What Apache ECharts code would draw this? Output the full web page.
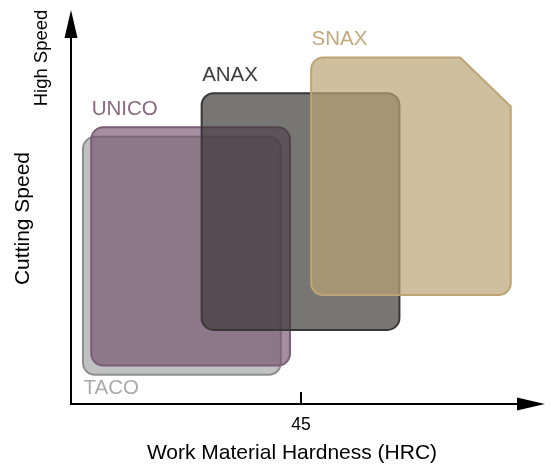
<!DOCTYPE html>
<html>
<head>
<meta charset="utf-8">
<title>Cutting Speed vs Work Material Hardness</title>
<script src="https://cdn.jsdelivr.net/npm/echarts@6/dist/echarts.min.js"></script>
<style>
  html, body { margin: 0; padding: 0; background: #fff; }
  #chart { width: 551px; height: 469px; }
</style>
</head>
<body>
<div id="chart"></div>
<script>
// grade families and the hardness / speed window each one covers
const grades = ['TACO', 'UNICO', 'ANAX', 'SNAX'];
const hardnessFrom = [21.3, 22.2, 34.2, 46.1];
const hardnessTo = [42.8, 43.8, 55.7, 67.8];
const speedFrom = [7.7, 10.1, 19.5, 28.7];
const speedTo = [70.3, 72.8, 81.8, 91.2];
// SNAX has its top-right corner clipped off
const clipHardness = [null, null, null, 62.3];
const clipSpeed = [null, null, null, 78.3];
const hardnessTicks = [45];

const FONT = '"Liberation Sans", Arial, Helvetica, sans-serif';
const R = 12;

const gradeStyle = {
  TACO: { fill: '#c0c1c1', stroke: '#8e8e8e', text: '#a9a9a9', below: true },
  UNICO: { fill: 'rgba(113, 78, 106, 0.64)', stroke: '#7c5a76', text: '#8a6981' },
  ANAX: { fill: 'rgba(60, 55, 55, 0.69)', stroke: '#3a3838', text: '#3e3e3e' },
  SNAX: { fill: 'rgba(184, 163, 114, 0.69)', stroke: '#bea474', text: '#c3a97b' },
}

const chart = echarts.init(document.getElementById('chart'));

// rounded box, optionally with the top-right corner cut at (cx, y0) -> (x1, cy)
function boxPath(x0, y0, x1, y1, cx, cy) {
  let d = `M ${x0 + R} ${y0} `;
  if (cx != null) {
    d += `L ${cx} ${y0} L ${x1} ${cy} `;
  } else {
    d += `L ${x1 - R} ${y0} A ${R} ${R} 0 0 1 ${x1} ${y0 + R} `;
  }
  d += `L ${x1} ${y1 - R} A ${R} ${R} 0 0 1 ${x1 - R} ${y1} `;
  d += `L ${x0 + R} ${y1} A ${R} ${R} 0 0 1 ${x0} ${y1 - R} `;
  d += `L ${x0} ${y0 + R} A ${R} ${R} 0 0 1 ${x0 + R} ${y0} Z`;
  return d;
}

const boxes = grades.map((g, i) => [
  hardnessFrom[i], hardnessTo[i], speedFrom[i], speedTo[i],
  clipHardness[i] == null ? '-' : clipHardness[i],
  clipSpeed[i] == null ? '-' : clipSpeed[i],
]);

chart.setOption({
  animation: false,
  backgroundColor: '#fff',
  textStyle: { fontFamily: FONT },
  grid: { left: 71, right: 20, top: 24, bottom: 63 },
  xAxis: {
    type: 'value',
    min: 20,
    max: 70,
    name: 'Work Material Hardness (HRC)',
    nameLocation: 'middle',
    nameGap: 39,
    nameTextStyle: { color: '#000', fontSize: 21, fontFamily: FONT, padding: [0, 18, 0, 0] },
    axisLine: {
      onZero: false,
      symbol: ['none', 'triangle'],
      symbolSize: [13, 28],
      lineStyle: { color: '#000', width: 2 },
    },
    axisTick: {
      show: true,
      inside: true,
      length: 12,
      customValues: hardnessTicks,
      lineStyle: { color: '#000', width: 2 },
    },
    axisLabel: {
      customValues: hardnessTicks,
      color: '#000',
      fontSize: 17.5,
      margin: 12,
      fontFamily: FONT,
    },
    splitLine: { show: false },
  },
  yAxis: {
    type: 'value',
    min: 0,
    max: 100,
    name: 'Cutting Speed',
    nameLocation: 'middle',
    nameGap: 37,
    nameTextStyle: { color: '#000', fontSize: 21, fontFamily: FONT, padding: [0, 9, 0, 0] },
    axisLine: {
      show: true,
      onZero: false,
      symbol: ['none', 'triangle'],
      symbolSize: [13, 28],
      lineStyle: { color: '#000', width: 2 },
    },
    axisTick: { show: false },
    axisLabel: { show: false },
    splitLine: { show: false },
  },
  graphic: [
    {
      type: 'text',
      x: 42,
      y: 58,
      rotation: Math.PI / 2,
      style: {
        text: 'High Speed',
        font: '18.5px ' + FONT,
        fill: '#000',
        align: 'center',
        verticalAlign: 'middle',
      },
    },
  ],
  series: [
    {
      type: 'custom',
      data: boxes,
      renderItem: (params, api) => {
        const name = grades[params.dataIndex];
        const st = gradeStyle[name];
        const tl = api.coord([api.value(0), api.value(3)]);
        const br = api.coord([api.value(1), api.value(2)]);
        let cx = null;
        let cy = null;
        if (!isNaN(api.value(4))) {
          cx = api.coord([api.value(4), api.value(3)])[0];
          cy = api.coord([api.value(1), api.value(5)])[1];
        }
        return {
          type: 'group',
          children: [
            {
              type: 'path',
              shape: { pathData: boxPath(tl[0], tl[1], br[0], br[1], cx, cy) },
              style: { fill: st.fill, stroke: st.stroke, lineWidth: 2 },
            },
            {
              type: 'text',
              x: tl[0] + 0.5,
              y: st.below ? br[1] + 13.5 : tl[1] - 18,
              style: {
                text: name,
                fill: st.text,
                font: '20.5px ' + FONT,
                align: 'left',
                verticalAlign: 'middle',
              },
            },
          ],
        };
      },
    },
  ],
});
</script>
</body>
</html>
